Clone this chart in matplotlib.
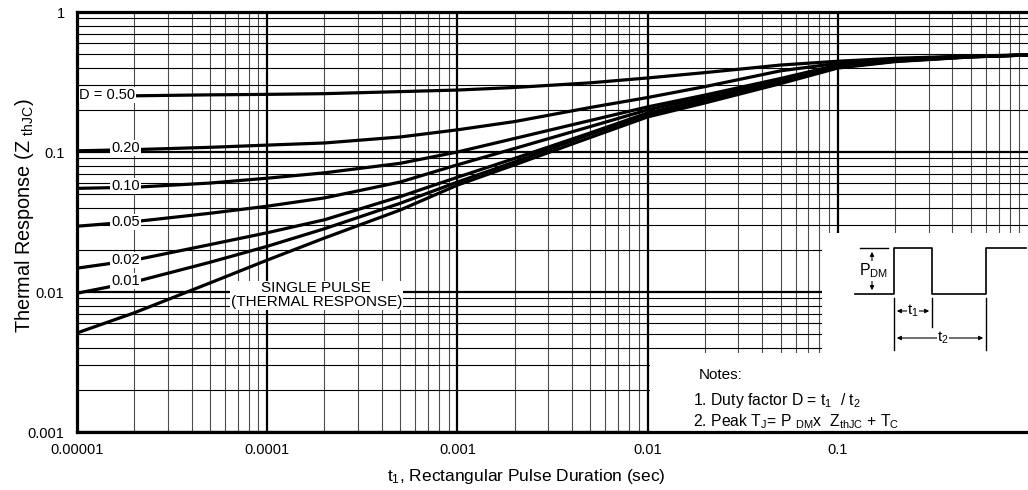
import matplotlib
matplotlib.use("Agg")
import matplotlib.pyplot as plt
from matplotlib.patches import Rectangle

plt.rcParams['font.family'] = ['Liberation Sans', 'DejaVu Sans']
plt.rcParams['mathtext.fontset'] = 'custom'
plt.rcParams['mathtext.rm'] = 'Liberation Sans'
plt.rcParams['mathtext.it'] = 'Liberation Sans'

# pulse duration (sec)
t1 = [1e-5, 2e-5, 5e-5, 1e-4, 2e-4, 5e-4, 1e-3, 2e-3, 5e-3, 1e-2, 2e-2, 5e-2, 0.1, 0.2, 0.5, 1.0]

# thermal response Z_thJC for each duty factor
z_050 = [0.250, 0.252, 0.256, 0.258, 0.261, 0.270, 0.277, 0.289, 0.312, 0.338, 0.369, 0.418, 0.445, 0.467, 0.485, 0.493]
z_020 = [0.102, 0.104, 0.108, 0.112, 0.116, 0.128, 0.144, 0.165, 0.208, 0.245, 0.293, 0.380, 0.430, 0.460, 0.484, 0.493]
z_010 = [0.055, 0.056, 0.060, 0.065, 0.071, 0.083, 0.100, 0.125, 0.168, 0.210, 0.255, 0.335, 0.418, 0.455, 0.481, 0.493]
z_005 = [0.0295, 0.0318, 0.0365, 0.041, 0.047, 0.061, 0.081, 0.106, 0.152, 0.200, 0.246, 0.330, 0.412, 0.452, 0.480, 0.493]
z_002 = [0.0148, 0.0169, 0.0218, 0.0265, 0.0328, 0.048, 0.066, 0.090, 0.137, 0.190, 0.236, 0.321, 0.406, 0.448, 0.479, 0.493]
z_001 = [0.0098, 0.0118, 0.0163, 0.0212, 0.0283, 0.043, 0.061, 0.085, 0.134, 0.185, 0.231, 0.315, 0.402, 0.445, 0.478, 0.493]
z_single = [0.0051, 0.0071, 0.0116, 0.0169, 0.0243, 0.0385, 0.058, 0.081, 0.127, 0.178, 0.224, 0.308, 0.398, 0.442, 0.477, 0.493]

curves = [z_050, z_020, z_010, z_005, z_002, z_001, z_single]
labels = ['D = 0.50', '0.20', '0.10', '0.05', '0.02', '0.01']
label_y = [0.255, 0.107, 0.0574, 0.0318, 0.0169, 0.0120]

xticks = [0.00001, 0.0001, 0.001, 0.01, 0.1]
xtick_labels = ['0.00001', '0.0001', '0.001', '0.01', '0.1']
yticks = [0.001, 0.01, 0.1, 1]
ytick_labels = ['0.001', '0.01', '0.1', '1']

dpi = 100
fig = plt.figure(figsize=(10.28, 4.90), dpi=dpi)
ax = fig.add_axes([77 / 1028, 58 / 490, 951 / 1028, 420 / 490])
ax.set_xscale('log')
ax.set_yscale('log')
ax.set_xlim(1e-5, 1)
ax.set_ylim(0.001, 1)

ax.set_axisbelow(True)
ax.grid(which='major', axis='both', color='black', linewidth=1.6)
ax.grid(which='minor', axis='x', color='0.3', linewidth=0.8)
ax.grid(which='minor', axis='y', color='black', linewidth=0.8)
ax.tick_params(which='both', length=0)
ax.tick_params(axis='x', pad=8, labelsize=10.5)
ax.tick_params(axis='y', pad=9, labelsize=10.5)
ax.set_xticks(xticks)
ax.set_xticklabels(xtick_labels)
ax.set_yticks(yticks)
ax.set_yticklabels(ytick_labels)
ax.xaxis.set_minor_formatter(plt.NullFormatter())
ax.yaxis.set_minor_formatter(plt.NullFormatter())

for s in ['left', 'top', 'bottom']:
    ax.spines[s].set_linewidth(2.3)
ax.spines['right'].set_visible(False)

for z in curves:
    ax.plot(t1, z, color='black', linewidth=2.3, zorder=2, solid_capstyle='butt')

for lab, ly in zip(labels, label_y):
    if lab.startswith('D'):
        ax.text(1.03e-5, ly, lab, fontsize=10.5, ha='left', va='center', zorder=4,
                bbox=dict(facecolor='white', edgecolor='none', pad=0.6))
    else:
        ax.text(1.8e-5, ly, lab, fontsize=10.5, ha='center', va='center', zorder=4,
                bbox=dict(facecolor='white', edgecolor='none', pad=0.6))

ax.text(1.81e-4, 0.0095, 'SINGLE PULSE\n(THERMAL RESPONSE)', fontsize=11,
        ha='center', va='center', linespacing=0.95, zorder=4,
        bbox=dict(facecolor='white', edgecolor='none', pad=0.5))

# white areas for the inset and notes
ax.add_patch(Rectangle((0.783, 0.0), 0.217, 0.474, transform=ax.transAxes,
                       facecolor='white', edgecolor='none', zorder=1))
ax.add_patch(Rectangle((0.6025, 0.0), 0.3975, 0.188, transform=ax.transAxes,
                       facecolor='white', edgecolor='none', zorder=1))

ax.text(0.654, 0.136, 'Notes:', transform=ax.transAxes, fontsize=11, va='center', zorder=3)
ax.text(0.648, 0.074, r'1. Duty factor D = t$_1$  / t$_2$', transform=ax.transAxes,
        fontsize=11.3, va='center', zorder=3)
ax.text(0.648, 0.024, r'2. Peak T$_\mathrm{J}$= P $_\mathrm{DM}$x  Z$_\mathrm{thJC}$ + T$_\mathrm{C}$',
        transform=ax.transAxes, fontsize=11.3, va='center', zorder=3)

# pulse diagram, drawn in pixel-like coordinates of the inset
ins = fig.add_axes([822 / 1028, (490 - 353) / 490, 206 / 1028, 120 / 490])
ins.set_xlim(822, 1028)
ins.set_ylim(353, 233)
ins.axis('off')
ins.patch.set_alpha(0)
ins.plot([855, 894, 894, 932, 932, 986, 986, 1026], [294, 294, 248, 248, 294, 294, 248, 248],
         color='black', linewidth=1.2)
ins.plot([860, 888], [248, 248], color='black', linewidth=1.0)
ins.annotate('', xy=(872, 249), xytext=(872, 293),
             arrowprops=dict(arrowstyle='<|-|>', color='black', lw=0.8, mutation_scale=6))
ins.text(859, 271, r'P$_\mathrm{DM}$', fontsize=11.5, va='center', ha='left',
         bbox=dict(facecolor='white', edgecolor='none', pad=0.3))
ins.plot([894, 894], [298, 350], color='black', linewidth=1.0)
ins.plot([932, 932], [298, 327], color='black', linewidth=1.0)
ins.plot([986, 986], [298, 350], color='black', linewidth=1.0)
ins.annotate('', xy=(894, 311), xytext=(932, 311),
             arrowprops=dict(arrowstyle='<|-|>', color='black', lw=0.8, mutation_scale=6))
ins.text(913, 311, r't$_1$', fontsize=11, ha='center', va='center',
         bbox=dict(facecolor='white', edgecolor='none', pad=0.2))
ins.annotate('', xy=(894, 338), xytext=(986, 338),
             arrowprops=dict(arrowstyle='<|-|>', color='black', lw=0.8, mutation_scale=6))
ins.text(943, 338, r't$_2$', fontsize=11, ha='center', va='center',
         bbox=dict(facecolor='white', edgecolor='none', pad=0.2))

ax.set_xlabel(r't$_1$, Rectangular Pulse Duration (sec)', fontsize=12.5)
ax.set_ylabel(r'Thermal Response (Z $_\mathrm{thJC}$)', fontsize=14.3)
ax.xaxis.set_label_coords(0.473, -0.083)
ax.yaxis.set_label_coords(-0.043, 0.515)

fig.savefig('out.png', dpi=dpi, facecolor='white')
